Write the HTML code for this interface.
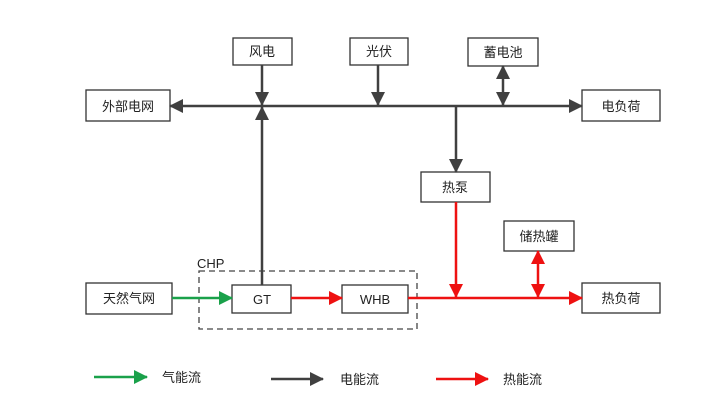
<!DOCTYPE html>
<html><head><meta charset="utf-8"><style>
body{margin:0;background:#fff;}
svg{display:block;}
text{font-family:"Liberation Sans","Noto Sans CJK SC",sans-serif;font-size:13px;fill:#222;}
</style></head><body>
<svg width="714" height="415" viewBox="0 0 714 415" xmlns="http://www.w3.org/2000/svg">
<defs>
<marker id="k" markerWidth="14" markerHeight="14" refX="13" refY="7" orient="auto-start-reverse" markerUnits="userSpaceOnUse"><path d="M0,0 L14,7 L0,14 z" fill="#404040"/></marker>
<marker id="r" markerWidth="14" markerHeight="14" refX="13" refY="7" orient="auto-start-reverse" markerUnits="userSpaceOnUse"><path d="M0,0 L14,7 L0,14 z" fill="#ee1111"/></marker>
<marker id="g" markerWidth="14" markerHeight="14" refX="13" refY="7" orient="auto-start-reverse" markerUnits="userSpaceOnUse"><path d="M0,0 L14,7 L0,14 z" fill="#1aa14a"/></marker>
</defs>
<g fill="#fff" stroke="#333" stroke-width="1.3">
<rect x="86" y="90" width="84" height="31"/>
<rect x="233" y="38" width="59" height="27"/>
<rect x="350" y="38" width="58" height="27"/>
<rect x="468" y="38" width="70" height="28"/>
<rect x="582" y="90" width="78" height="31"/>
<rect x="421" y="172" width="69" height="30"/>
<rect x="504" y="221" width="70" height="30"/>
<rect x="582" y="283" width="78" height="30"/>
<rect x="86" y="283" width="86" height="31"/>
<rect x="232" y="285" width="59" height="28"/>
<rect x="342" y="285" width="66" height="28"/>
</g>
<rect x="199" y="271" width="218" height="58" fill="none" stroke="#444" stroke-width="1.3" stroke-dasharray="6,4"/>
<g stroke="#404040" stroke-width="2.5" fill="none">
<line x1="170" y1="106" x2="582" y2="106" marker-start="url(#k)" marker-end="url(#k)"/>
<line x1="262" y1="65" x2="262" y2="105" marker-end="url(#k)"/>
<line x1="378" y1="65" x2="378" y2="105" marker-end="url(#k)"/>
<line x1="503" y1="66" x2="503" y2="105" marker-start="url(#k)" marker-end="url(#k)"/>
<line x1="456" y1="106" x2="456" y2="172" marker-end="url(#k)"/>
<line x1="262" y1="285" x2="262" y2="107" marker-end="url(#k)"/>
<line x1="271" y1="379" x2="323" y2="379" marker-end="url(#k)"/>
</g>
<g stroke="#ee1111" stroke-width="2.5" fill="none">
<line x1="456" y1="202" x2="456" y2="297" marker-end="url(#r)"/>
<line x1="538" y1="251" x2="538" y2="297" marker-start="url(#r)" marker-end="url(#r)"/>
<line x1="408" y1="298" x2="582" y2="298" marker-end="url(#r)"/>
<line x1="291" y1="298" x2="342" y2="298" marker-end="url(#r)"/>
<line x1="436" y1="379" x2="488" y2="379" marker-end="url(#r)"/>
</g>
<g stroke="#1aa14a" stroke-width="2.5" fill="none">
<line x1="172" y1="298" x2="232" y2="298" marker-end="url(#g)"/>
<line x1="94" y1="377" x2="147" y2="377" marker-end="url(#g)"/>
</g>
<g text-anchor="middle">
<text x="128" y="111">外部电网</text>
<text x="262" y="56">风电</text>
<text x="379" y="56">光伏</text>
<text x="503" y="57">蓄电池</text>
<text x="621" y="111">电负荷</text>
<text x="455" y="192">热泵</text>
<text x="539" y="241">储热罐</text>
<text x="621" y="303">热负荷</text>
<text x="129" y="303">天然气网</text>
<text x="262" y="304">GT</text>
<text x="375" y="304">WHB</text>
</g>
<text x="197" y="268">CHP</text>
<text x="162" y="382">气能流</text>
<text x="340" y="384">电能流</text>
<text x="503" y="384">热能流</text>
</svg>
</body></html>
